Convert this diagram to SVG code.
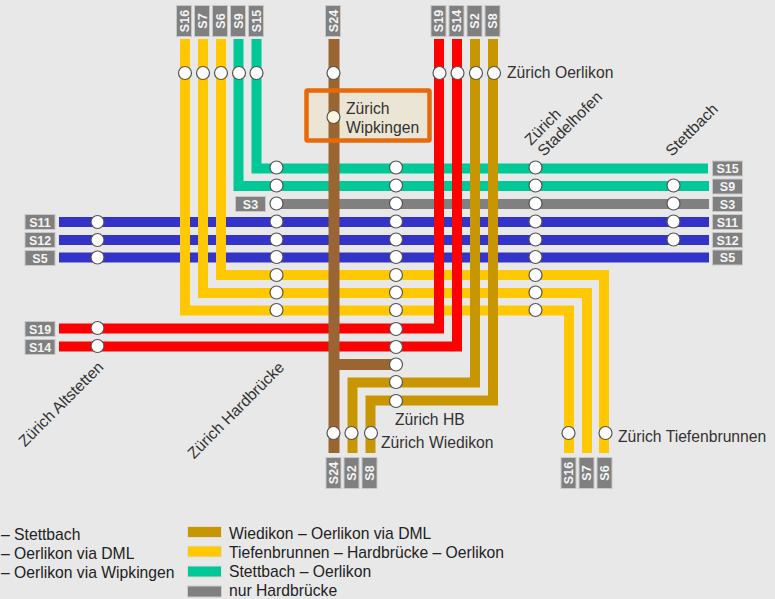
<svg xmlns="http://www.w3.org/2000/svg" width="775" height="599" viewBox="0 0 775 599">
<style>
text{font-family:"Liberation Sans",Arial,sans-serif}
.l{fill:none;stroke-width:10;stroke-linejoin:miter}
.y{stroke:#ffc800}.g{stroke:#00c896}.b{stroke:#3333c8}.r{stroke:#ff0000}.br{stroke:#996633;stroke-width:11}.go{stroke:#c89600}.gr{stroke:#808080}
.st{fill:#fff;stroke:#555;stroke-width:1.2}
.tag{fill:#808080;stroke:#c8c8c8;stroke-width:1}
.tt{fill:#f4f4f4;font-size:12.500px;font-weight:bold;text-anchor:middle}
.n{fill:#333;font-size:15.700px}
.k{fill:#222;font-size:15.700px}
</style>
<rect width="775" height="599" fill="#e8e8e8"/>
<rect id="wipkingen-bg" x="306.500" y="90.500" width="123" height="50" fill="#ebe5d5"/>
<g id="connectors">
<path class="l g" d="M256.500 39V168.500H708"/>
<path class="l g" d="M238.500 39V186H709"/>
<path class="l gr" d="M277 204H709"/>
<path class="l b" d="M59 222H709M59 240H709M59 257.500H709"/>
<path class="l y" d="M185 39V310.500H569V453"/>
<path class="l y" d="M203 39V293H587V453"/>
<path class="l y" d="M221 39V275H604V453"/>
<path class="l r" d="M59 328.500H439V39"/>
<path class="l r" d="M59 346.500H457V39"/>
<path class="l go" d="M475 39V382.500H352.500V453"/>
<path class="l go" d="M493 39V400.500H370.500V453"/>
<path class="l br" d="M334 39V453M334 364.500H396"/>
</g>
<rect id="wipkingen-frame" x="306.500" y="90.500" width="123" height="50" rx="1" fill="none" stroke="#e8690a" stroke-width="4.500"/>
<g id="station-altstetten"><circle class="st" cx="97.500" cy="222" r="6.500"/><circle class="st" cx="97.500" cy="240" r="6.500"/><circle class="st" cx="97.500" cy="257.500" r="6.500"/><circle class="st" cx="97.500" cy="328" r="6.500"/><circle class="st" cx="97.500" cy="346" r="6.500"/>
<text class="n" transform="translate(25 447.500) rotate(-45)">Zürich Altstetten</text></g>
<g id="station-hardbruecke"><circle class="st" cx="276.500" cy="167.500" r="6.500"/><circle class="st" cx="276.500" cy="185.500" r="6.500"/><circle class="st" cx="276.500" cy="203.500" r="6.500"/><circle class="st" cx="276.500" cy="221.500" r="6.500"/><circle class="st" cx="276.500" cy="239.500" r="6.500"/><circle class="st" cx="276.500" cy="257" r="6.500"/><circle class="st" cx="276.500" cy="275" r="6.500"/><circle class="st" cx="276.500" cy="292.500" r="6.500"/><circle class="st" cx="276.500" cy="310" r="6.500"/>
<text class="n" transform="translate(194 459.500) rotate(-45)">Zürich Hardbrücke</text></g>
<g id="station-hb"><circle class="st" cx="396" cy="167.500" r="6.500"/><circle class="st" cx="396" cy="185.500" r="6.500"/><circle class="st" cx="396" cy="203.500" r="6.500"/><circle class="st" cx="396" cy="221.500" r="6.500"/><circle class="st" cx="396" cy="239.500" r="6.500"/><circle class="st" cx="396" cy="257" r="6.500"/><circle class="st" cx="396" cy="275" r="6.500"/><circle class="st" cx="396" cy="292.500" r="6.500"/><circle class="st" cx="396" cy="310" r="6.500"/><circle class="st" cx="396" cy="329" r="6.500"/><circle class="st" cx="396" cy="347" r="6.500"/><circle class="st" cx="396" cy="364.500" r="6.500"/><circle class="st" cx="396" cy="382" r="6.500"/><circle class="st" cx="396" cy="401" r="6.500"/>
<text class="n" x="395" y="425">Zürich HB</text></g>
<g id="station-stadelhofen"><circle class="st" cx="535.500" cy="167.500" r="6.500"/><circle class="st" cx="535.500" cy="185.500" r="6.500"/><circle class="st" cx="535.500" cy="203.500" r="6.500"/><circle class="st" cx="535.500" cy="221.500" r="6.500"/><circle class="st" cx="535.500" cy="239.500" r="6.500"/><circle class="st" cx="535.500" cy="257" r="6.500"/><circle class="st" cx="535.500" cy="275" r="6.500"/><circle class="st" cx="535.500" cy="292.500" r="6.500"/><circle class="st" cx="535.500" cy="310" r="6.500"/>
<text class="n" transform="translate(531 146) rotate(-45)">Zürich</text><text class="n" transform="translate(544 157) rotate(-45)">Stadelhofen</text></g>
<g id="station-stettbach"><circle class="st" cx="673.500" cy="185.500" r="6.500"/><circle class="st" cx="673.500" cy="203.500" r="6.500"/><circle class="st" cx="673.500" cy="221.500" r="6.500"/><circle class="st" cx="673.500" cy="239.500" r="6.500"/>
<text class="n" transform="translate(672 157) rotate(-45)">Stettbach</text></g>
<g id="station-oerlikon"><circle class="st" cx="185" cy="73" r="6.500"/><circle class="st" cx="203" cy="73" r="6.500"/><circle class="st" cx="221" cy="73" r="6.500"/><circle class="st" cx="239" cy="73" r="6.500"/><circle class="st" cx="256.500" cy="73" r="6.500"/><circle class="st" cx="333.500" cy="73" r="6.500"/><circle class="st" cx="439.500" cy="73" r="6.500"/><circle class="st" cx="457.500" cy="73" r="6.500"/><circle class="st" cx="476" cy="73" r="6.500"/><circle class="st" cx="494" cy="73" r="6.500"/>
<text class="n" x="507" y="77.500">Zürich Oerlikon</text></g>
<g id="station-wipkingen"><circle cx="333.500" cy="117" r="6.500" fill="#fdf5e0" stroke="#555" stroke-width="1.200"/>
<text class="n" x="346" y="114">Zürich</text><text class="n" x="346" y="133">Wipkingen</text></g>
<g id="station-wiedikon"><circle class="st" cx="333.500" cy="433" r="6.500"/><circle class="st" cx="351.500" cy="433" r="6.500"/><circle class="st" cx="371" cy="433" r="6.500"/>
<text class="n" x="381" y="447.500">Zürich Wiedikon</text></g>
<g id="station-tiefenbrunnen"><circle class="st" cx="568.500" cy="433" r="6.500"/><circle class="st" cx="605.500" cy="433" r="6.500"/>
<text class="n" x="618" y="442">Zürich Tiefenbrunnen</text></g>
<g id="tags-left">
<rect class="tag" x="25" y="214.500" width="30" height="15"/><text class="tt" x="40" y="226.500">S11</text>
<rect class="tag" x="25" y="232.500" width="30" height="15"/><text class="tt" x="40" y="244.500">S12</text>
<rect class="tag" x="25" y="250.500" width="30" height="15"/><text class="tt" x="40" y="262.500">S5</text>
<rect class="tag" x="25" y="321.500" width="30" height="15"/><text class="tt" x="40" y="333.500">S19</text>
<rect class="tag" x="25" y="339.500" width="30" height="15"/><text class="tt" x="40" y="351.500">S14</text>
<rect class="tag" x="235.500" y="196.500" width="30" height="15"/><text class="tt" x="250.500" y="208.500">S3</text>
</g>
<g id="tags-right">
<rect class="tag" x="712.500" y="161" width="30" height="15"/><text class="tt" x="727.500" y="173">S15</text>
<rect class="tag" x="712.500" y="179" width="30" height="15"/><text class="tt" x="727.500" y="191">S9</text>
<rect class="tag" x="712.500" y="196.500" width="30" height="15"/><text class="tt" x="727.500" y="208.500">S3</text>
<rect class="tag" x="712.500" y="214.500" width="30" height="15"/><text class="tt" x="727.500" y="226.500">S11</text>
<rect class="tag" x="712.500" y="232.500" width="30" height="15"/><text class="tt" x="727.500" y="244.500">S12</text>
<rect class="tag" x="712.500" y="250" width="30" height="15"/><text class="tt" x="727.500" y="262">S5</text>
</g>
<g id="tags-top">
<rect class="tag" x="176.500" y="5.500" width="15" height="31"/><text class="tt" transform="translate(188.500 21) rotate(-90)">S16</text>
<rect class="tag" x="194.500" y="5.500" width="15" height="31"/><text class="tt" transform="translate(206.500 21) rotate(-90)">S7</text>
<rect class="tag" x="212.500" y="5.500" width="15" height="31"/><text class="tt" transform="translate(224.500 21) rotate(-90)">S6</text>
<rect class="tag" x="230.500" y="5.500" width="15" height="31"/><text class="tt" transform="translate(242.500 21) rotate(-90)">S9</text>
<rect class="tag" x="248.500" y="5.500" width="15" height="31"/><text class="tt" transform="translate(260.500 21) rotate(-90)">S15</text>
<rect class="tag" x="325.500" y="5.500" width="15" height="31"/><text class="tt" transform="translate(337.500 21) rotate(-90)">S24</text>
<rect class="tag" x="431" y="5.500" width="15" height="31"/><text class="tt" transform="translate(443 21) rotate(-90)">S19</text>
<rect class="tag" x="449" y="5.500" width="15" height="31"/><text class="tt" transform="translate(461 21) rotate(-90)">S14</text>
<rect class="tag" x="467" y="5.500" width="15" height="31"/><text class="tt" transform="translate(479 21) rotate(-90)">S2</text>
<rect class="tag" x="485" y="5.500" width="15" height="31"/><text class="tt" transform="translate(497 21) rotate(-90)">S8</text>
</g>
<g id="tags-bottom">
<rect class="tag" x="326" y="457.500" width="15" height="31"/><text class="tt" transform="translate(338 473) rotate(-90)">S24</text>
<rect class="tag" x="344" y="457.500" width="15" height="31"/><text class="tt" transform="translate(356 473) rotate(-90)">S2</text>
<rect class="tag" x="362" y="457.500" width="15" height="31"/><text class="tt" transform="translate(374 473) rotate(-90)">S8</text>
<rect class="tag" x="561" y="457.500" width="15" height="31"/><text class="tt" transform="translate(573 473) rotate(-90)">S16</text>
<rect class="tag" x="579" y="457.500" width="15" height="31"/><text class="tt" transform="translate(591 473) rotate(-90)">S7</text>
<rect class="tag" x="597" y="457.500" width="15" height="31"/><text class="tt" transform="translate(609 473) rotate(-90)">S6</text>
</g>
<g id="legend">
<text class="k" x="1" y="540">– Stettbach</text>
<text class="k" x="1" y="558.500">– Oerlikon via DML</text>
<text class="k" x="1" y="577.500">– Oerlikon via Wipkingen</text>
<rect x="187.500" y="526.500" width="34" height="11" fill="#c89600" stroke="#ddd" stroke-width="1"/><text class="k" x="229" y="539">Wiedikon – Oerlikon via DML</text>
<rect x="187.500" y="546" width="34" height="11" fill="#ffc800" stroke="#ddd" stroke-width="1"/><text class="k" x="229" y="558">Tiefenbrunnen – Hardbrücke – Oerlikon</text>
<rect x="187.500" y="566" width="34" height="11" fill="#00c896" stroke="#ddd" stroke-width="1"/><text class="k" x="229" y="577">Stettbach – Oerlikon</text>
<rect x="187.500" y="586" width="34" height="11" fill="#808080" stroke="#ccc" stroke-width="1"/><text class="k" x="229" y="596">nur Hardbrücke</text>
</g>
</svg>
